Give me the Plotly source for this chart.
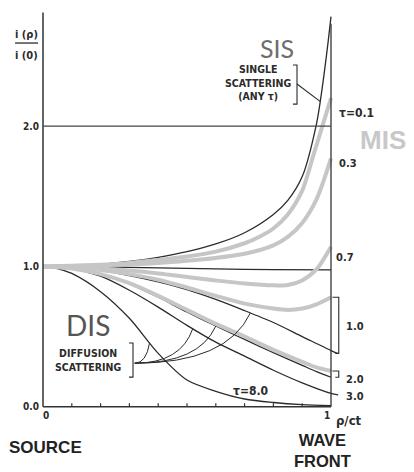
import numpy as np
import plotly.graph_objects as go

# ---- relative intensity i(rho)/i(0) along rho/ct ----
# single scattering (any tau)
sis_x = [0, 0.1, 0.2, 0.3, 0.4, 0.5, 0.6, 0.7, 0.8, 0.85, 0.9, 0.95, 0.97, 0.99, 1.0]
sis_y = [1.0, 1.005, 1.015, 1.035, 1.065, 1.105, 1.16, 1.24, 1.37, 1.47, 1.64, 2.02, 2.28, 2.6, 2.78]

# multiple scattering (grey curves)
mis01_x = [0, 0.1, 0.2, 0.3, 0.4, 0.5, 0.6, 0.7, 0.75, 0.8, 0.85, 0.9, 0.94, 0.97, 1.0]
mis01_y = [1.0, 1.004, 1.012, 1.025, 1.045, 1.07, 1.105, 1.165, 1.21, 1.27, 1.37, 1.54, 1.80, 2.0, 2.2]
mis03_x = [0, 0.2, 0.4, 0.5, 0.6, 0.7, 0.8, 0.85, 0.9, 0.95, 1.0]
mis03_y = [1.0, 1.008, 1.025, 1.04, 1.06, 1.09, 1.15, 1.21, 1.31, 1.48, 1.77]
mis07_x = [0, 0.1, 0.2, 0.3, 0.4, 0.5, 0.6, 0.7, 0.8, 0.85, 0.9, 0.95, 1.0]
mis07_y = [1.0, 0.996, 0.985, 0.97, 0.95, 0.925, 0.9, 0.878, 0.865, 0.868, 0.9, 0.98, 1.14]
mis10_x = [0, 0.1, 0.2, 0.3, 0.4, 0.5, 0.6, 0.7, 0.8, 0.85, 0.9, 0.95, 1.0]
mis10_y = [1.0, 0.993, 0.975, 0.945, 0.905, 0.85, 0.79, 0.735, 0.70, 0.69, 0.70, 0.73, 0.78]
mis20_x = [0, 0.1, 0.2, 0.3, 0.4, 0.5, 0.6, 0.7, 0.8, 0.9, 0.95, 1.0]
mis20_y = [1.0, 0.985, 0.945, 0.88, 0.79, 0.69, 0.59, 0.5, 0.405, 0.32, 0.28, 0.255]

# diffusion / exact curves (black)
flat_x = [0, 0.2, 0.4, 0.6, 0.8, 1.0]
flat_y = [1.0, 0.996, 0.99, 0.982, 0.977, 0.975]
dis10_x = [0, 0.1, 0.2, 0.3, 0.4, 0.5, 0.6, 0.7, 0.8, 0.9, 1.0, 1.022]
dis10_y = [1.0, 0.992, 0.97, 0.935, 0.89, 0.835, 0.765, 0.685, 0.6, 0.5, 0.4, 0.38]
dis20_x = [0, 0.1, 0.2, 0.3, 0.4, 0.5, 0.6, 0.7, 0.8, 0.9, 0.95, 1.0]
dis20_y = [1.0, 0.985, 0.945, 0.875, 0.78, 0.675, 0.575, 0.48, 0.385, 0.295, 0.25, 0.21]
dis30_x = [0, 0.1, 0.2, 0.3, 0.4, 0.5, 0.6, 0.7, 0.8, 0.9, 1.0, 1.025]
dis30_y = [1.0, 0.985, 0.93, 0.83, 0.71, 0.58, 0.46, 0.36, 0.26, 0.17, 0.095, 0.085]
dis80_x = [0, 0.05, 0.1, 0.2, 0.3, 0.4, 0.5, 0.6, 0.7, 0.8, 0.9, 1.0]
dis80_y = [1.0, 0.985, 0.95, 0.82, 0.63, 0.38, 0.19, 0.11, 0.055, 0.03, 0.015, 0.008]

# axis tick labels
y_ticks = [0.0, 1.0, 2.0]
y_tick_text = ["0.0", "1.0", "2.0"]
x_ticks = [0, 1]
x_tick_text = ["0", "1"]
minor_ticks = [0.1, 0.2, 0.3, 0.4, 0.5, 0.6, 0.7, 0.8, 0.9]

BLACK = "#2b2b2b"
GREY = "#c6c6c6"
HAND = "Liberation Sans Narrow, DejaVu Sans Condensed, Liberation Sans"

fig = go.Figure()


def curve(xs, ys, color, width):
    fig.add_trace(go.Scatter(
        x=xs, y=ys, mode="lines",
        line=dict(color=color, width=width, shape="spline", smoothing=0.8),
        hoverinfo="skip", showlegend=False))


for xs, ys in [(sis_x, sis_y), (flat_x, flat_y), (dis10_x, dis10_y),
               (dis20_x, dis20_y), (dis30_x, dis30_y), (dis80_x, dis80_y)]:
    curve(xs, ys, BLACK, 1.3)
for xs, ys in [(mis01_x, mis01_y), (mis03_x, mis03_y), (mis07_x, mis07_y),
               (mis10_x, mis10_y), (mis20_x, mis20_y)]:
    curve(xs, ys, GREY, 4)

shapes = []


def seg(x0, y0, x1, y1, color="#333", width=1.5):
    shapes.append(dict(type="line", xref="x", yref="y", x0=x0, y0=y0, x1=x1, y1=y1,
                       line=dict(color=color, width=width)))


def path(d, color=BLACK, width=1.1):
    shapes.append(dict(type="path", xref="x", yref="y", path=d,
                       line=dict(color=color, width=width)))


# frame: left axis, baseline, wave-front line, 2.0 reference line
seg(0, 0, 0, 2.81)
seg(0, 0, 1, 0)
seg(1, 0, 1, 2.73, width=1.3)
seg(0, 2, 1, 2, color="#444", width=1.2)
for t in minor_ticks:
    seg(t, 0, t, 0.025, width=1.2)

# fraction bar of the y-axis title
seg(-0.097, 2.592, -0.017, 2.592, color=BLACK, width=1.3)

# bracket + pointer for the single-scattering label
bx, by0, by1 = 0.882, 2.435, 2.157
path(f"M {bx-0.014},{by0} L {bx},{by0} L {bx},{by1} L {bx-0.014},{by1}")
px_s = 0.962
path(f"M {bx},{2.30} L {px_s},{np.interp(px_s, sis_x, sis_y)}")

# bracket + pointers for the diffusion label
dx, dy0, dy1, dyt = 0.3125, 0.454, 0.211, 0.31
path(f"M {dx-0.014},{dy0} L {dx},{dy0} L {dx},{dy1} L {dx-0.014},{dy1}")
for xe, (cx, cy) in [(0.72, (dis10_x, dis10_y)), (0.60, (dis20_x, dis20_y)),
                     (0.52, (dis30_x, dis30_y)), (0.37, (dis80_x, dis80_y))]:
    ye = float(np.interp(xe, cx, cy))
    ctrl_x = dx + 0.8 * (xe - dx)
    path(f"M {dx+0.006},{dyt} Q {ctrl_x},{dyt} {xe},{ye}", width=1.0)

# right-hand brackets pairing grey/black ends for tau = 1.0 and 2.0
rb = 1.027
for gy, ky in [(mis10_y[-1], dis10_y[-1]), (mis20_y[-1], dis20_y[-1])]:
    path(f"M {1.005},{gy} L {rb},{gy} L {rb},{ky} L {1.015},{ky}", width=1.1)

ann = []


def text(t, x, y, size, color=BLACK, family=HAND, xanchor="center", yanchor="middle", bold=True):
    ann.append(dict(text=f"<b>{t}</b>" if bold else t, x=x, y=y, xref="x", yref="y",
                    showarrow=False, xanchor=xanchor, yanchor=yanchor,
                    font=dict(size=size, color=color, family=family)))


# tick labels
for v, s in zip(y_ticks, y_tick_text):
    text(s, -0.008, v, 10, xanchor="right")
for v, s in zip(x_ticks, x_tick_text):
    text(s, v + 0.01 if v == 0 else v - 0.015, -0.06, 10)

# axis titles
text("i (ρ)", -0.056, 2.656, 11)
text("i (0)", -0.056, 2.506, 11)
text("ρ/ct", 1.062, -0.10, 13)

# curve parameters
text("τ=0.1", 1.02, 2.093, 12, xanchor="left")
text("0.3", 1.02, 1.73, 11, xanchor="left")
text("0.7", 1.01, 1.067, 11, xanchor="left")
text("1.0", 1.045, 0.569, 11, xanchor="left")
text("2.0", 1.045, 0.197, 11, xanchor="left")
text("3.0", 1.045, 0.076, 11, xanchor="left")
text("τ=8.0", 0.722, 0.112, 12)

# regime labels
text("SINGLE<br>SCATTERING<br>(ANY τ)", 0.748, 2.31, 10.5)
text("DIFFUSION<br>SCATTERING", 0.158, 0.333, 10.5)
text("SIS", 0.8125, 2.556, 25, color="#6e6e6e", family="Lato, Open Sans", bold=False)
text("DIS", 0.156, 0.585, 28, color="#555555", family="Lato, Open Sans", bold=False)
text("MIS", 1.181, 1.901, 26, color="#c8c8c8", family="Liberation Sans, Arial")

# source / wave front captions
text("SOURCE", 0.007, -0.294, 17, color="#222", family="Liberation Sans, Arial")
text("WAVE<br>FRONT", 0.865, -0.31, 16.5, color="#222", family="Liberation Sans, Arial",
     xanchor="left")

fig.update_layout(
    shapes=shapes,
    annotations=ann,
    width=414, height=472,
    margin=dict(l=0, r=0, t=0, b=0),
    paper_bgcolor="white", plot_bgcolor="white",
    xaxis=dict(range=[-0.1493, 1.2882], visible=False, fixedrange=True),
    yaxis=dict(range=[-0.4654, 2.8988], visible=False, fixedrange=True),
)

fig.write_html("out.html")
